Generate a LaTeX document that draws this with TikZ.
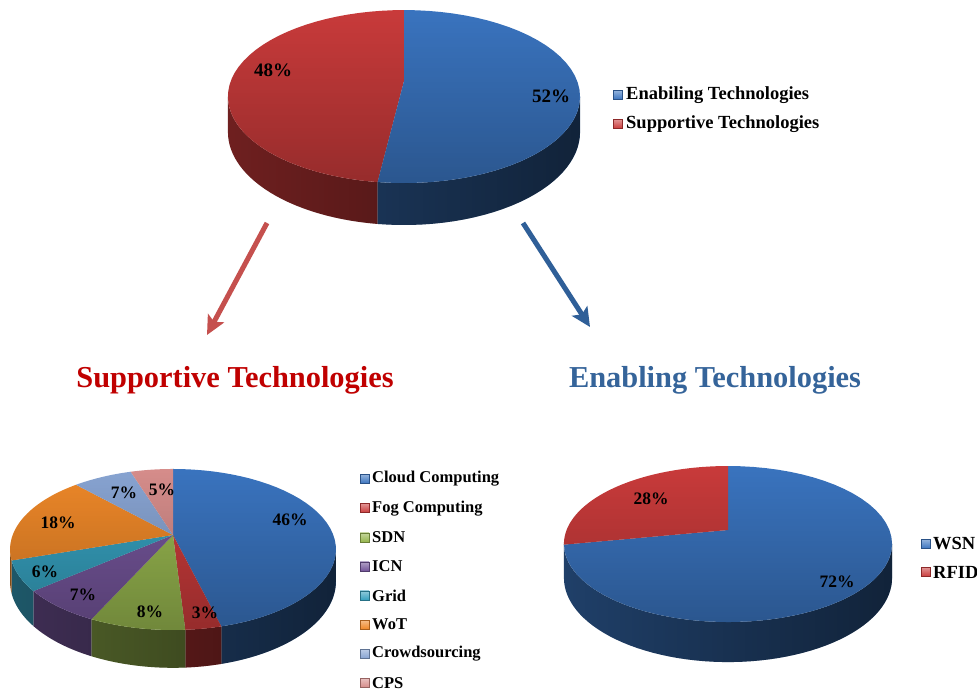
\documentclass[tikz,border=0pt]{standalone}
\usepackage{fontspec}
\setmainfont{Liberation Serif}
\usetikzlibrary{positioning, arrows.meta, fadings}

\definecolor{cblue}{HTML}{3A74BF}
\definecolor{cred}{HTML}{C93B3B}
\definecolor{cgreen}{HTML}{97B64F}
\definecolor{cpurple}{HTML}{74559A}
\definecolor{ccyan}{HTML}{36A0BE}
\definecolor{corange}{HTML}{EE8829}
\definecolor{clight}{HTML}{88A4D2}
\definecolor{cpink}{HTML}{D68D8B}
\definecolor{titlered}{HTML}{C00000}
\definecolor{titleblue}{HTML}{35649A}
\definecolor{arrred}{HTML}{C5504E}
\definecolor{arrblue}{HTML}{2F5F98}

\tikzfading[name=fade r, left color=transparent!100, right color=transparent!0]
\tikzfading[name=fade d, top color=transparent!100, bottom color=transparent!0]

\begin{document}
\begin{tikzpicture}[x=1pt, y=-1pt,
    declare function={pw(\t)=1+0.18*sin(\t); ptx(\t)=\pcx+\pR*cos(\t)/pw(\t);
      pty(\t)=\pcy-\pr*sin(\t)/pw(\t); pby(\t)=pty(\t)+\pD/pw(\t);},
    pct/.style={font=\bfseries\fontsize{17.5}{17.5}\selectfont, inner sep=0pt},
    legkey/.style={draw=#1!70!black, line width=0.4pt, top color=#1!55!white, bottom color=#1, minimum size=9pt, inner sep=0pt},
    keytext/.style={font=\bfseries\fontsize{16.5}{16.5}\selectfont, anchor=west, inner sep=0pt},
    heading/.style={font=\bfseries\fontsize{30.4}{30.4}\selectfont, inner sep=0pt},
    bigarrow/.style={line width=5pt, -{Stealth[length=19pt, width=18pt, inset=4pt]}}]
    \useasboundingbox[fill=white] (0,0) rectangle (977,690);

    \def\pcx{404}\def\pcy{81}\def\pR{173.2}\def\pr{83.7}\def\pD{34.4}
    \foreach \a/\b/\c in {-169.63/-97.2/cred, -97.2/-10.37/cblue}
        \fill[\c!55!black] plot[domain=\a:\b, samples=30] ({ptx(\x)},{pty(\x)}) -- plot[domain=\b:\a, samples=30] ({ptx(\x)},{pby(\x)}) -- cycle;
    \fill[black, path fading=fade r, fill opacity=0.45] plot[domain=-169.63:-10.37, samples=60] ({ptx(\x)},{pty(\x)}) -- plot[domain=-10.37:-169.63, samples=60] ({ptx(\x)},{pby(\x)}) -- cycle;
    \foreach \a/\b/\c in {90/262.8/cred, -97.2/90/cblue}
        \fill[\c] (\pcx,\pcy) -- plot[domain=\a:\b, samples=40] ({ptx(\x)},{pty(\x)}) -- cycle;
    \fill[black, path fading=fade d, fill opacity=0.25] plot[domain=0:360, samples=90] ({ptx(\x)},{pty(\x)}) -- cycle;
    \node[pct, font=\bfseries\fontsize{19}{19}\selectfont] (p48) at (273,70) {48\%};
    \node[pct, font=\bfseries\fontsize{19}{19}\selectfont] (p52) at (551,96) {52\%};

    \node[legkey=cblue] (ke) at (618,95) {};
    \node[keytext, font=\bfseries\fontsize{18.5}{18.5}\selectfont] (le) at (626,95) {Enabiling Technologies};
    \node[legkey=cred] (ks) at (618,124) {};
    \node[keytext, font=\bfseries\fontsize{18.5}{18.5}\selectfont] (ls) at (626,124) {Supportive Technologies};

    \coordinate (rs) at (267,223);
    \coordinate (re) at (207,335);
    \coordinate (bs) at (523,223);
    \coordinate (be) at (590,327);
    \draw[bigarrow, arrred] (rs) -- (re);
    \draw[bigarrow, arrblue] (bs) -- (be);

    \node[heading, text=titlered] (sup) at (235,380) {Supportive Technologies};
    \node[heading, text=titleblue] (ena) at (715,380) {Enabling Technologies};

    \def\pcx{173}\def\pcy{535}\def\pR{160.3}\def\pr{77.9}\def\pD{31}
    \foreach \a/\b/\c in {-75.6/-10.37/cblue, -86.4/-75.6/cred, -115.2/-86.4/cgreen, -140.4/-115.2/cpurple, -162/-140.4/ccyan, -169.63/-162/corange}
        \fill[\c!55!black] plot[domain=\a:\b, samples=30] ({ptx(\x)},{pty(\x)}) -- plot[domain=\b:\a, samples=30] ({ptx(\x)},{pby(\x)}) -- cycle;
    \fill[black, path fading=fade r, fill opacity=0.45] plot[domain=-169.63:-10.37, samples=60] ({ptx(\x)},{pty(\x)}) -- plot[domain=-10.37:-169.63, samples=60] ({ptx(\x)},{pby(\x)}) -- cycle;
    \foreach \a/\b/\c in {-75.6/90/cblue, -86.4/-75.6/cred, -115.2/-86.4/cgreen, -140.4/-115.2/cpurple, -162/-140.4/ccyan, -226.8/-162/corange, -252/-226.8/clight, -270/-252/cpink}
        \fill[\c] (\pcx,\pcy) -- plot[domain=\a:\b, samples=40] ({ptx(\x)},{pty(\x)}) -- cycle;
    \fill[black, path fading=fade d, fill opacity=0.25] plot[domain=0:360, samples=90] ({ptx(\x)},{pty(\x)}) -- cycle;
    \node[pct] (p46) at (290,520) {46\%};
    \node[pct] (p3) at (205,613) {3\%};
    \node[pct] (p8) at (150,612) {8\%};
    \node[pct] (p7a) at (83,595) {7\%};
    \node[pct] (p6) at (45,572) {6\%};
    \node[pct] (p18) at (58,523) {18\%};
    \node[pct] (p7b) at (124,493) {7\%};
    \node[pct] (p5) at (162,490) {5\%};

    \foreach \t/\c [count=\i] in {Cloud Computing/cblue, Fog Computing/cred, SDN/cgreen, ICN/cpurple, Grid/ccyan, WoT/corange, Crowdsourcing/clight, CPS/cpink}{
        \node[legkey=\c] (k\i) at (364.5,{479+29.1*(\i-1)}) {};
        \node[keytext] (l\i) at (372,{479+29.1*(\i-1)}) {\t};
    }

    \def\pcx{728}\def\pcy{530}\def\pR{161.4}\def\pr{75.5}\def\pD{32.8}
    \fill[cblue!55!black] plot[domain=-169.63:-10.37, samples=60] ({ptx(\x)},{pty(\x)}) -- plot[domain=-10.37:-169.63, samples=60] ({ptx(\x)},{pby(\x)}) -- cycle;
    \fill[black, path fading=fade r, fill opacity=0.45] plot[domain=-169.63:-10.37, samples=60] ({ptx(\x)},{pty(\x)}) -- plot[domain=-10.37:-169.63, samples=60] ({ptx(\x)},{pby(\x)}) -- cycle;
    \foreach \a/\b/\c in {-169.2/90/cblue, -270/-169.2/cred}
        \fill[\c] (\pcx,\pcy) -- plot[domain=\a:\b, samples=50] ({ptx(\x)},{pty(\x)}) -- cycle;
    \fill[black, path fading=fade d, fill opacity=0.25] plot[domain=0:360, samples=90] ({ptx(\x)},{pty(\x)}) -- cycle;
    \node[pct] (p28) at (651,499) {28\%};
    \node[pct] (p72) at (837,582) {72\%};

    \node[legkey=cblue] (kw) at (926,544) {};
    \node[keytext, font=\bfseries\fontsize{18.5}{18.5}\selectfont] (lw) at (933,544) {WSN};
    \node[legkey=cred] (kr) at (926,572) {};
    \node[keytext, font=\bfseries\fontsize{18.5}{18.5}\selectfont] (lr) at (933,572) {RFID};
\end{tikzpicture}
\end{document}
